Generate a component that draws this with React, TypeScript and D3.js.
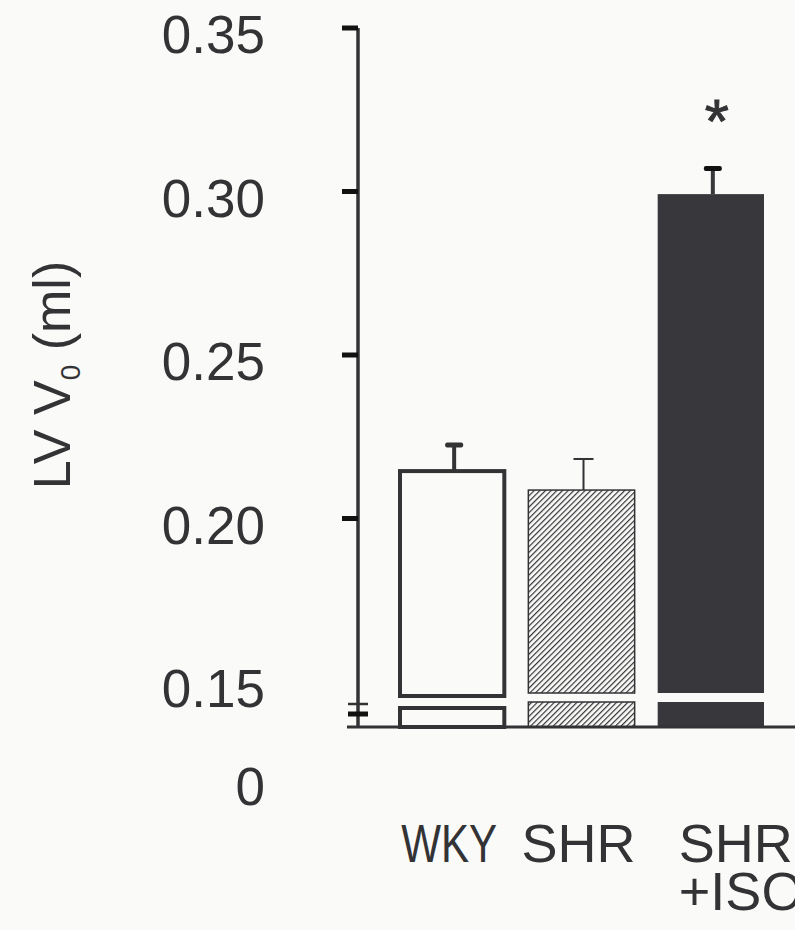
import React from "react";
import * as d3 from "d3";

const categories = ["WKY", "SHR", "SHR+ISO"];
const categoryLines = [["WKY"], ["SHR"], ["SHR", "+ISO"]];
const means = [0.2145, 0.2087, 0.2992];
const sems = [0.008, 0.0095, 0.0078];
const barStyles = ["open", "hatched", "solid"];
const tickValues = [0.35, 0.3, 0.25, 0.2];
const labelValues = [0.35, 0.3, 0.25, 0.2, 0.15];
const belowBreakLabel = "0";
const significant = [false, false, true];

const W = 795;
const H = 930;
const BG = "#fafaf8";
const INK = "#333336";
const DARK = "#38373c";
const FONT = "'Liberation Sans', Arial, Helvetica, sans-serif";

export default function App() {
  const y = d3.scaleLinear().domain([0.15, 0.35]).range([682, 28]);
  const x = d3
    .scaleBand<string>()
    .domain(categories)
    .range([399, 764])
    .paddingInner(0.178)
    .paddingOuter(0);
  const axisX = 358;
  const baseY = 727;
  const breakTop = 693;
  const breakBottom = 702;
  const bw = x.bandwidth();

  return (
    <svg
      width={W}
      height={H}
      style={{ position: "absolute", left: 0, top: 0, background: BG }}
      fontFamily={FONT}
    >
      <defs>
        <pattern id="hatch" width="4" height="4" patternUnits="userSpaceOnUse" patternTransform="rotate(45)">
          <rect width="4" height="4" fill={BG} />
          <line x1="0" y1="0" x2="0" y2="4" stroke={INK} strokeWidth="2.4" />
        </pattern>
      </defs>
      <rect width={W} height={H} fill={BG} />

      {/* y axis title */}
      <text
        transform="translate(70,375) rotate(-90)"
        textAnchor="middle"
        fontSize={52}
        fill={INK}
      >
        LV V<tspan fontSize={28} dy={10}>0</tspan>
        <tspan dy={-10}> (ml)</tspan>
      </text>

      {/* tick labels */}
      {labelValues.map((v) => (
        <text key={v} x={265} y={y(v) + 25} textAnchor="end" fontSize={53} fill={INK}>
          {d3.format(".2f")(v)}
        </text>
      ))}
      <text x={265} y={baseY + 78} textAnchor="end" fontSize={53} fill={INK}>
        {belowBreakLabel}
      </text>

      {/* bars */}
      {categories.map((c, i) => {
        const x0 = x(c) as number;
        const top = y(means[i]);
        const style = barStyles[i];
        if (style === "open") {
          return (
            <g key={c} fill={BG} stroke={INK} strokeWidth={4}>
              <rect x={x0 + 1} y={top} width={bw - 2} height={breakTop + 3 - top} />
              <rect x={x0 + 1} y={breakBottom + 6} width={bw - 2} height={baseY - breakBottom - 6} />
            </g>
          );
        }
        if (style === "hatched") {
          return (
            <g key={c} fill="url(#hatch)" stroke={INK} strokeWidth={1.5}>
              <rect x={x0} y={top} width={bw} height={breakTop - top} />
              <rect x={x0} y={breakBottom} width={bw} height={baseY - breakBottom} />
            </g>
          );
        }
        return (
          <g key={c} fill={DARK}>
            <rect x={x0} y={top} width={bw} height={breakTop - top} />
            <rect x={x0} y={breakBottom} width={bw} height={baseY - breakBottom} />
          </g>
        );
      })}

      {/* error bars */}
      {categories.map((c, i) => {
        const cx = (x(c) as number) + bw / 2 + 2;
        const top = y(means[i]);
        const cap = y(means[i] + sems[i]);
        const style = barStyles[i];
        const thin = style === "hatched";
        const lw = thin ? 2 : 4;
        const capW = thin ? 20 : 18;
        const capH = thin ? 2 : 5;
        return (
          <g key={c}>
            <line x1={cx} x2={cx} y1={top} y2={cap} stroke={style === "solid" ? DARK : INK} strokeWidth={lw} />
            <rect
              x={cx - capW / 2}
              y={cap - capH / 2}
              width={capW}
              height={capH}
              rx={thin ? 0 : 2}
              fill={style === "solid" ? "#111" : INK}
            />
            {significant[i] && (
              <text x={cx + 4} y={cap - 27} textAnchor="middle" fontSize={62} fill={INK} stroke={INK} strokeWidth={1}>
                *
              </text>
            )}
          </g>
        );
      })}

      {/* y axis */}
      <line x1={axisX} x2={axisX} y1={y(0.35)} y2={baseY + 1} stroke={INK} strokeWidth={3.5} />
      {tickValues.map((v) => (
        <line key={v} x1={342} x2={axisX} y1={y(v)} y2={y(v)} stroke="#111" strokeWidth={5} />
      ))}
      {/* axis break marks */}
      <line x1={348} x2={368} y1={breakTop + 11} y2={breakTop + 11} stroke={INK} strokeWidth={2.5} />
      <line x1={348} x2={368} y1={breakTop + 21} y2={breakTop + 21} stroke="#111" strokeWidth={5} />

      {/* x axis */}
      <line x1={347} x2={W} y1={baseY} y2={baseY} stroke={INK} strokeWidth={3} />

      {/* category labels */}
      {categories.map((c, i) => {
        const cx = (x(c) as number) + bw / 2;
        const lines = categoryLines[i];
        const multi = lines.length > 1;
        return (
          <text
            key={c}
            x={multi ? cx - 32 : cx}
            y={862}
            textAnchor={multi ? "start" : "middle"}
            fontSize={54}
            fill={INK}
            textLength={lines[0] === "WKY" ? 96 : undefined}
            lengthAdjust="spacingAndGlyphs"
          >
            {lines.map((l, j) => (
              <tspan key={j} x={multi ? cx - 32 : cx - 3} dy={j === 0 ? 0 : 48}>
                {l}
              </tspan>
            ))}
          </text>
        );
      })}
    </svg>
  );
}
